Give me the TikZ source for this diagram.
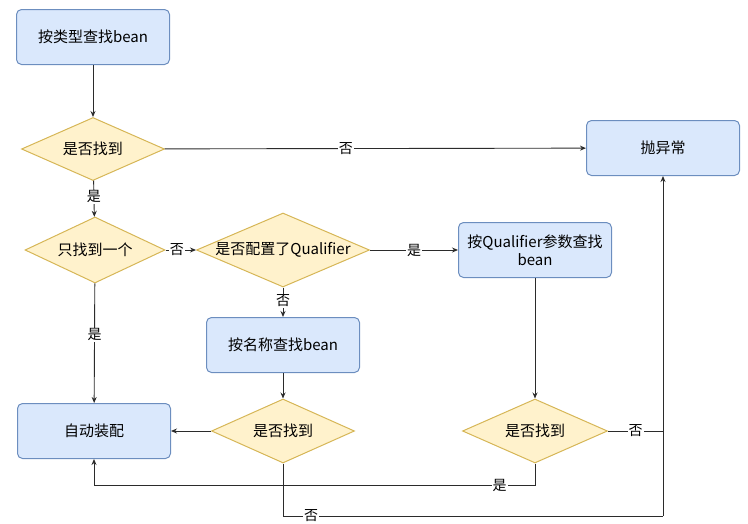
\documentclass[tikz,border=0pt]{standalone}
\usepackage{fontspec}
\setmainfont{Noto Sans CJK SC}
\usetikzlibrary{shapes.geometric,arrows.meta}
\definecolor{bfill}{HTML}{DAE8FC}
\definecolor{bdraw}{HTML}{6C8EBF}
\definecolor{dfill}{HTML}{FFF2CC}
\definecolor{ddraw}{HTML}{D6B656}
\definecolor{lcol}{HTML}{2B2B2B}
\tikzset{
  bbox/.style={draw=bdraw, fill=bfill, rounded corners=5pt, line width=1pt,
    minimum width=153pt, minimum height=55pt, inner sep=2pt, align=center,
    font=\fontsize{15}{18}\selectfont, text=black},
  dia/.style={draw=ddraw, fill=dfill, diamond, line width=1pt, inner sep=0pt,
    label={[font=\fontsize{15}{18}\selectfont, text=black]center:#1}},
  conn/.style={draw=lcol, line width=0.9pt, -{Stealth[length=6pt,width=5pt]}},
  plain/.style={draw=lcol, line width=0.9pt},
  lab/.style={fill=white, inner sep=1pt, font=\fontsize{14}{16}\selectfont, text=black},
}
\begin{document}
\begin{tikzpicture}[x=1pt, y=-1pt]
\useasboundingbox (0,0) rectangle (748,523);
\node[bbox] (b1) at (93,37) {按类型查找bean};
\node[dia={是否找到}, minimum width=143pt, minimum height=63pt] (d1) at (93,149) {};
\node[bbox] (err) at (663,148) {抛异常};
\node[dia={只找到一个}, minimum width=140pt, minimum height=66pt] (d2) at (95,250) {};
\node[dia={是否配置了Qualifier}, minimum width=173pt, minimum height=74pt] (d3) at (283,250) {};
\node[bbox] (bq) at (535,250) {按Qualifier参数查找\\bean};
\node[bbox] (bn) at (283,345) {按名称查找bean};
\node[bbox] (auto) at (94,431) {自动装配};
\node[dia={是否找到}, minimum width=143pt, minimum height=64pt] (d4) at (283,431) {};
\node[dia={是否找到}, minimum width=145pt, minimum height=64pt] (d5) at (535,431) {};

\coordinate (ra) at (663,431);
\coordinate (rb) at (663,516);
\coordinate (ya) at (535,485);
\coordinate (yb) at (94,485);

\draw[conn] (b1) -- (d1);
\draw[conn] (d1) -- node[lab, pos=0.43] {否} (err);
\draw[conn] (d1) -- node[lab, pos=0.45] {是} (d2);
\draw[conn] (d2) -- node[lab, pos=0.37] {否} (d3);
\draw[conn] (d3) -- node[lab, pos=0.5] {是} (bq);
\draw[conn] (d3) -- node[lab, pos=0.45] {否} (bn);
\draw[conn] (d2) -- node[lab, pos=0.43] {是} (auto);
\draw[conn] (bn) -- (d4);
\draw[conn] (d4) -- (auto);
\draw[conn] (bq) -- (d5);
\draw[conn] (d5.south) -- (ya) -- node[lab, pos=0.08] {是} (yb) -- (auto.south);
\draw[plain] (d5.east) -- node[lab, pos=0.5] {否} (ra);
\draw[plain] (d4.south) |- node[lab, pos=0.537] {否} (rb);
\draw[conn] (rb) -- (err.south);
\end{tikzpicture}
\end{document}
